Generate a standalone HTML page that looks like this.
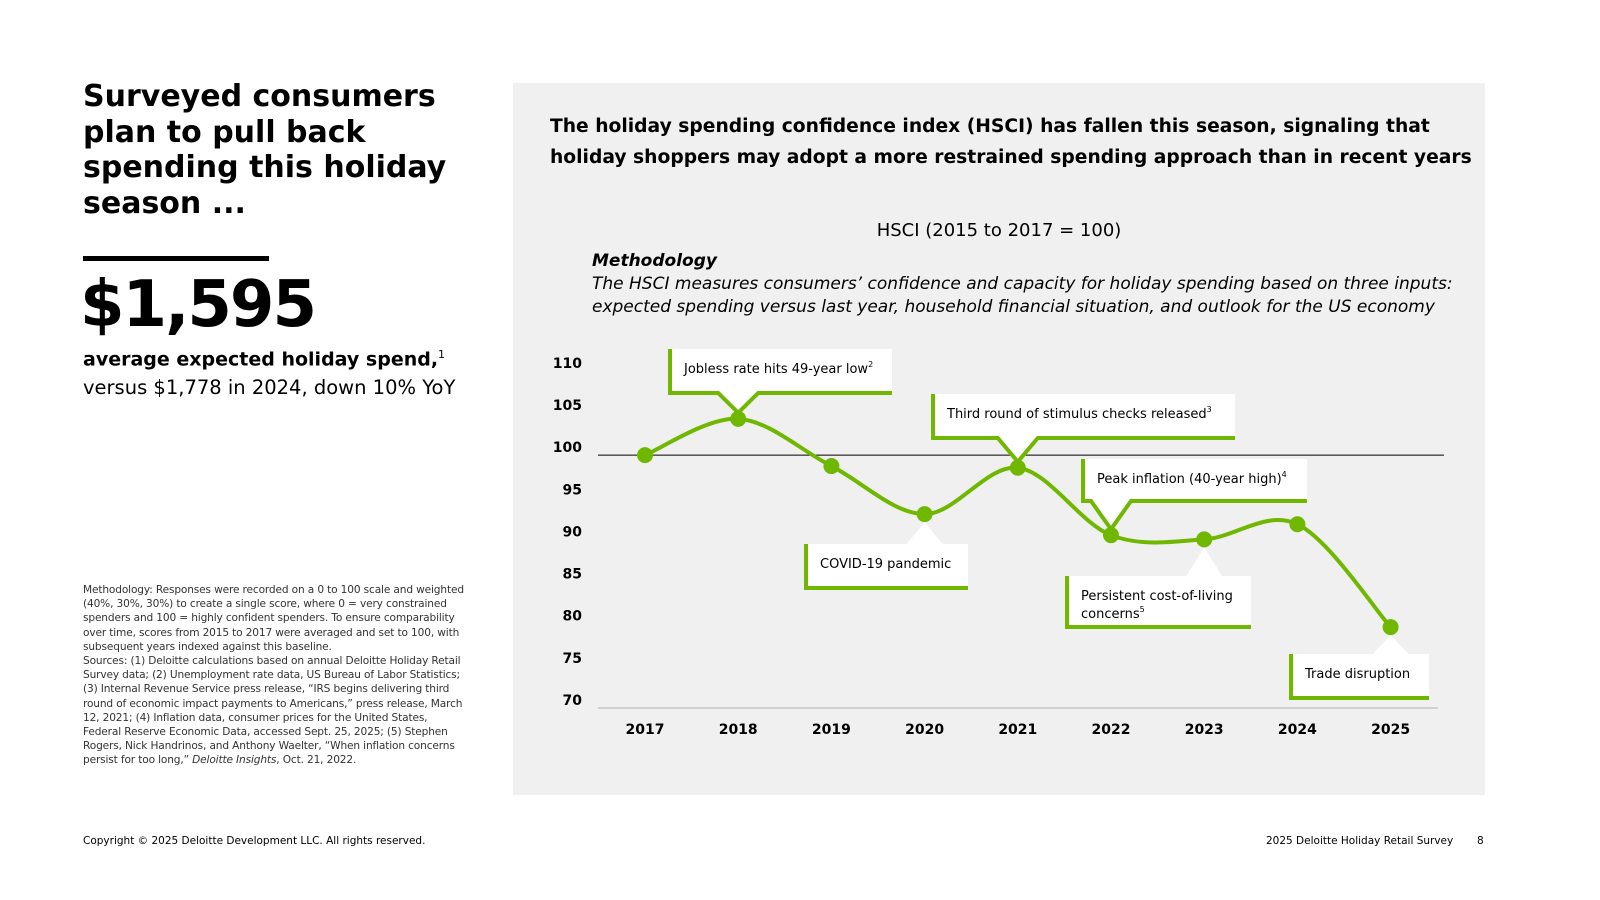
<!DOCTYPE html>
<html><head><meta charset="utf-8"><style>
body{margin:0;width:1600px;height:900px;background:#fff;font-family:"DejaVu Sans","Liberation Sans",sans-serif;position:relative;overflow:hidden;color:#000}
.abs{position:absolute}
</style></head><body>
<div class="abs" style="left:83px;top:79px;width:400px;font-size:30px;font-weight:bold;line-height:35.5px">Surveyed consumers plan to pull back spending this holiday season ...</div>
<div class="abs" style="left:83px;top:256px;width:186px;height:5px;background:#000"></div>
<div class="abs" style="left:80px;top:268px;font-size:64px;font-weight:bold;letter-spacing:-2px">$1,595</div>
<div class="abs" style="left:83px;top:341px;font-size:19.5px;line-height:27px;width:400px"><span style="font-weight:bold;font-size:19px">average expected holiday spend,</span><sup style="font-size:11px">1</sup><br>versus $1,778 in 2024, down 10% YoY</div>
<div class="abs" style="left:83px;top:583px;width:385px;font-size:10.6px;line-height:14.2px;letter-spacing:-0.15px;color:#333">Methodology: Responses were recorded on a 0 to 100 scale and weighted (40%, 30%, 30%) to create a single score, where 0 = very constrained spenders and 100 = highly confident spenders. To ensure comparability over time, scores from 2015 to 2017 were averaged and set to 100, with subsequent years indexed against this baseline.<br>Sources: (1) Deloitte calculations based on annual Deloitte Holiday Retail Survey data; (2) Unemployment rate data, US Bureau of Labor Statistics; (3) Internal Revenue Service press release, “IRS begins delivering third round of economic impact payments to Americans,” press release, March 12, 2021; (4) Inflation data, consumer prices for the United States, Federal Reserve Economic Data, accessed Sept. 25, 2025; (5) Stephen Rogers, Nick Handrinos, and Anthony Waelter, “When inflation concerns persist for too long,” <i>Deloitte Insights</i>, Oct. 21, 2022.</div>
<div class="abs" style="left:83px;top:835px;font-size:10.5px">Copyright © 2025 Deloitte Development LLC. All rights reserved.</div>
<div class="abs" style="left:1266px;top:835px;font-size:10.5px">2025 Deloitte Holiday Retail Survey</div>
<div class="abs" style="left:1477px;top:835px;font-size:10.5px">8</div>

<div class="abs" style="left:513px;top:83px;width:972px;height:712px;background:#f0f0f0"></div>
<div class="abs" style="left:550px;top:111px;width:935px;font-size:18.7px;font-weight:bold;line-height:31px;white-space:nowrap">The holiday spending confidence index (HSCI) has fallen this season, signaling that<br>holiday shoppers may adopt a more restrained spending approach than in recent years</div>
<div class="abs" style="left:513px;top:220px;width:972px;text-align:center;font-size:18px">HSCI (2015 to 2017 = 100)</div>
<div class="abs" style="left:592px;top:250px;width:880px;font-size:17px;font-style:italic;line-height:23px;white-space:nowrap"><b>Methodology</b><br>The HSCI measures consumers’ confidence and capacity for holiday spending based on three inputs:<br>expected spending versus last year, household financial situation, and outlook for the US economy</div>

<svg class="abs" style="left:0;top:0" width="1600" height="900" id="chart"></svg>
<script>
const years=["2017","2018","2019","2020","2021","2022","2023","2024","2025"];
const hsci=[100,104.3,98.7,93.0,98.5,90.5,90.0,91.8,79.6];
const yTicks=[70,75,80,85,90,95,100,105,110];
const NS="http://www.w3.org/2000/svg";
const FF='DejaVu Sans, Liberation Sans, sans-serif';
const svg=document.getElementById('chart');
const xS=i=>645+i*93.2;
const yS=v=>708-(v-70)*8.43;
function mk(t,a,txt){const e=document.createElementNS(NS,t);for(const k in a)e.setAttribute(k,a[k]);if(txt!=null)e.textContent=txt;svg.appendChild(e);return e;}
yTicks.forEach(v=>{const t=mk('text',{x:582,y:yS(v)-3,'text-anchor':'end','font-size':14,'font-weight':'bold','font-family':FF},v);

});
years.forEach((y,i)=>{const t=mk('text',{x:xS(i),y:734,'text-anchor':'middle','font-size':14,'font-weight':'bold','font-family':FF},y);

});
const base=mk('line',{x1:598,x2:1438,y1:yS(70),y2:yS(70),stroke:'#d0d0d0','stroke-width':2});


const ref=mk('line',{x1:598,x2:1444,y1:yS(100),y2:yS(100),stroke:'#000','stroke-width':1});


function callout(lines,bx,by,w,h,i,top,name,sup){
 const px=xS(i),py=yS(hsci[i]);
 const g=document.createElementNS(NS,'g');svg.appendChild(g);
 
 
 const add=(t,a,txt)=>{const e=document.createElementNS(NS,t);for(const k in a)e.setAttribute(k,a[k]);if(txt!=null)e.textContent=txt;g.appendChild(e);return e;};
 add('rect',{x:bx,y:by,width:w,height:h,fill:'#fff'});
 if(top){
  add('polygon',{points:`${px-18},${by+h} ${px+18},${by+h} ${px},${py-6}`,fill:'#fff'});
  add('polyline',{points:`${bx},${by} ${bx},${by+h} ${px-20},${by+h} ${px},${py-6} ${px+20},${by+h} ${bx+w},${by+h}`,fill:'none',stroke:'#6fb700','stroke-width':4});
 } else {
  add('polygon',{points:`${px-18},${by} ${px+18},${by} ${px},${py+8}`,fill:'#fff'});
  add('polyline',{points:`${bx},${by} ${bx},${by+h} ${bx+w},${by+h}`,fill:'none',stroke:'#6fb700','stroke-width':4});
 }
 lines.forEach((l,k)=>{const t=add('text',{x:bx+14,y:by+24+k*18,'font-size':13,'font-family':FF},l);
  if(sup&&k==lines.length-1){const s=document.createElementNS(NS,'tspan');s.setAttribute('dy',-6);s.setAttribute('font-size',8);s.textContent=sup;t.appendChild(s);}});
}
function smooth(pts){let d=`M${pts[0][0]},${pts[0][1]}`;
 for(let i=0;i<pts.length-1;i++){const p0=pts[i-1]||pts[i],p1=pts[i],p2=pts[i+1],p3=pts[i+2]||p2;
 const c1=[p1[0]+(p2[0]-p0[0])/6,p1[1]+(p2[1]-p0[1])/6],c2=[p2[0]-(p3[0]-p1[0])/6,p2[1]-(p3[1]-p1[1])/6];
 d+=` C${c1[0]},${c1[1]} ${c2[0]},${c2[1]} ${p2[0]},${p2[1]}`;}return d;}
callout(['Jobless rate hits 49-year low'],670,349,222,44,1,true,'callout-jobless','2');
callout(['Third round of stimulus checks released'],933,394,302,44,4,true,'callout-stimulus','3');
callout(['Peak inflation (40-year high)'],1083,459,224,42,5,true,'callout-inflation','4');
callout(['COVID-19 pandemic'],806,544,162,44,3,false,'callout-covid');
callout(['Persistent cost-of-living','concerns'],1067,576,184,51,6,false,'callout-cost-of-living','5');
callout(['Trade disruption'],1291,654,138,44,8,false,'callout-trade');
const pts=hsci.map((v,i)=>[xS(i),yS(v)]);
const line=mk('path',{d:smooth(pts),fill:'none',stroke:'#6fb700','stroke-width':4});


pts.forEach(p=>{const c=mk('circle',{cx:p[0],cy:p[1],r:8,fill:'#6fb700'});

});
</script>
</body></html>
